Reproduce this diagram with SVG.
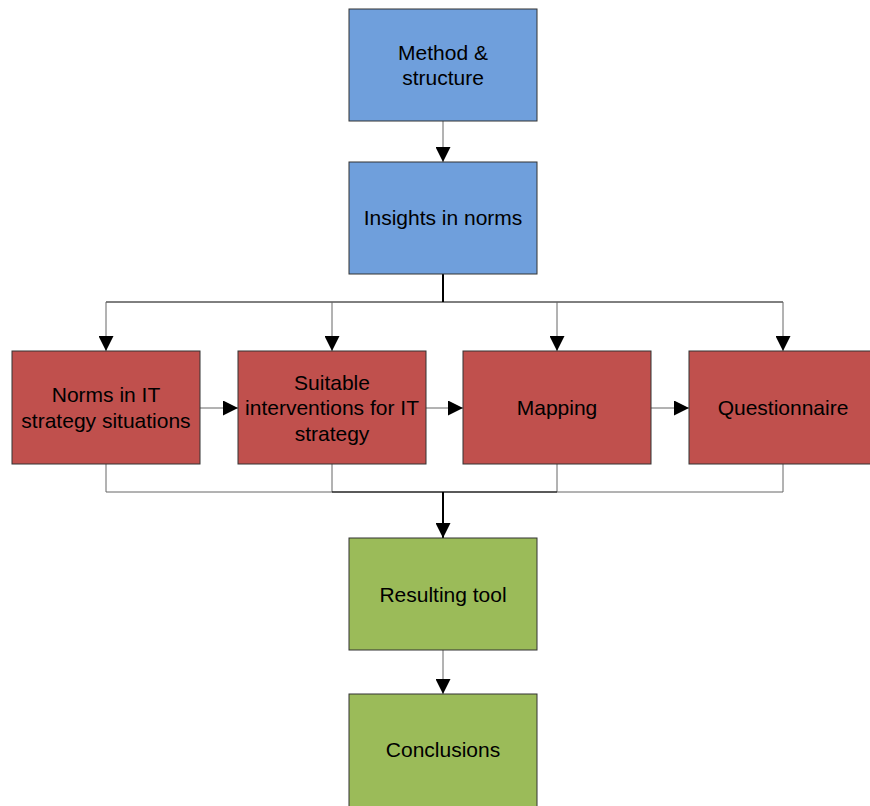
<svg xmlns="http://www.w3.org/2000/svg" width="870" height="806" viewBox="0 0 870 806">
  <style>
    .box { stroke: #333; stroke-width: 1; }
    .blue { fill: #6f9fdc; }
    .red { fill: #c0504d; }
    .green { fill: #9bbb59; }
    .lbl { font-family: "Liberation Sans", Arial, sans-serif; font-size: 21px; fill: #000; text-anchor: middle; }
    .wire { fill: none; stroke: #000; stroke-width: 1; }
    .wire-g { fill: none; stroke: #666; stroke-width: 1; }
    .thick { fill: none; stroke: #000; stroke-width: 2; }
  </style>
  <defs>
    <marker id="arrow" markerUnits="userSpaceOnUse" markerWidth="15" markerHeight="15" viewBox="0 0 15 15" refX="15" refY="7.5" orient="auto">
      <path d="M0,0 L15,7.5 L0,15 Z" fill="#000"/>
    </marker>
  </defs>

  <g id="connectors">
    <!-- top flow -->
    <path class="wire-g" d="M443,121 V162" marker-end="url(#arrow)"/>
    <path class="thick" d="M443,274 V302"/>
    <path class="wire" d="M106,302 H783"/>
    <path class="wire-g" d="M106,302 V351" marker-end="url(#arrow)"/>
    <path class="wire-g" d="M332,302 V351" marker-end="url(#arrow)"/>
    <path class="wire-g" d="M557,302 V351" marker-end="url(#arrow)"/>
    <path class="wire-g" d="M783,302 V351" marker-end="url(#arrow)"/>
    <!-- horizontal chain -->
    <path class="wire-g" d="M200,408 H238" marker-end="url(#arrow)"/>
    <path class="wire-g" d="M426,408 H463" marker-end="url(#arrow)"/>
    <path class="wire-g" d="M651,408 H689" marker-end="url(#arrow)"/>
    <!-- bottom collector -->
    <path class="wire-g" d="M106,464 V492 H783 V464"/>
    <path class="wire-g" d="M332,464 V492"/>
    <path class="wire-g" d="M557,464 V492"/>
    <path class="wire" d="M332,492 H557"/>
    <path class="thick" d="M443,492 V538" marker-end="url(#arrow)"/>
    <path class="wire-g" d="M443,650 V694" marker-end="url(#arrow)"/>
  </g>

  <g id="method">
    <rect class="box blue" x="349" y="9" width="188" height="112"/>
    <text class="lbl" x="443" y="60">Method &amp;</text>
    <text class="lbl" x="443" y="85">structure</text>
  </g>
  <g id="insights">
    <rect class="box blue" x="349" y="162" width="188" height="112"/>
    <text class="lbl" x="443" y="225">Insights in norms</text>
  </g>
  <g id="norms">
    <rect class="box red" x="12" y="351" width="188" height="113"/>
    <text class="lbl" x="106" y="402">Norms in IT</text>
    <text class="lbl" x="106" y="428">strategy situations</text>
  </g>
  <g id="interventions">
    <rect class="box red" x="238" y="351" width="188" height="113"/>
    <text class="lbl" x="332" y="390">Suitable</text>
    <text class="lbl" x="332" y="415">interventions for IT</text>
    <text class="lbl" x="332" y="441">strategy</text>
  </g>
  <g id="mapping">
    <rect class="box red" x="463" y="351" width="188" height="113"/>
    <text class="lbl" x="557" y="415">Mapping</text>
  </g>
  <g id="questionnaire">
    <rect class="box red" x="689" y="351" width="188" height="113"/>
    <text class="lbl" x="783" y="415">Questionnaire</text>
  </g>
  <g id="resulting">
    <rect class="box green" x="349" y="538" width="188" height="112"/>
    <text class="lbl" x="443" y="602">Resulting tool</text>
  </g>
  <g id="conclusions">
    <rect class="box green" x="349" y="694" width="188" height="120"/>
    <text class="lbl" x="443" y="757">Conclusions</text>
  </g>
</svg>
